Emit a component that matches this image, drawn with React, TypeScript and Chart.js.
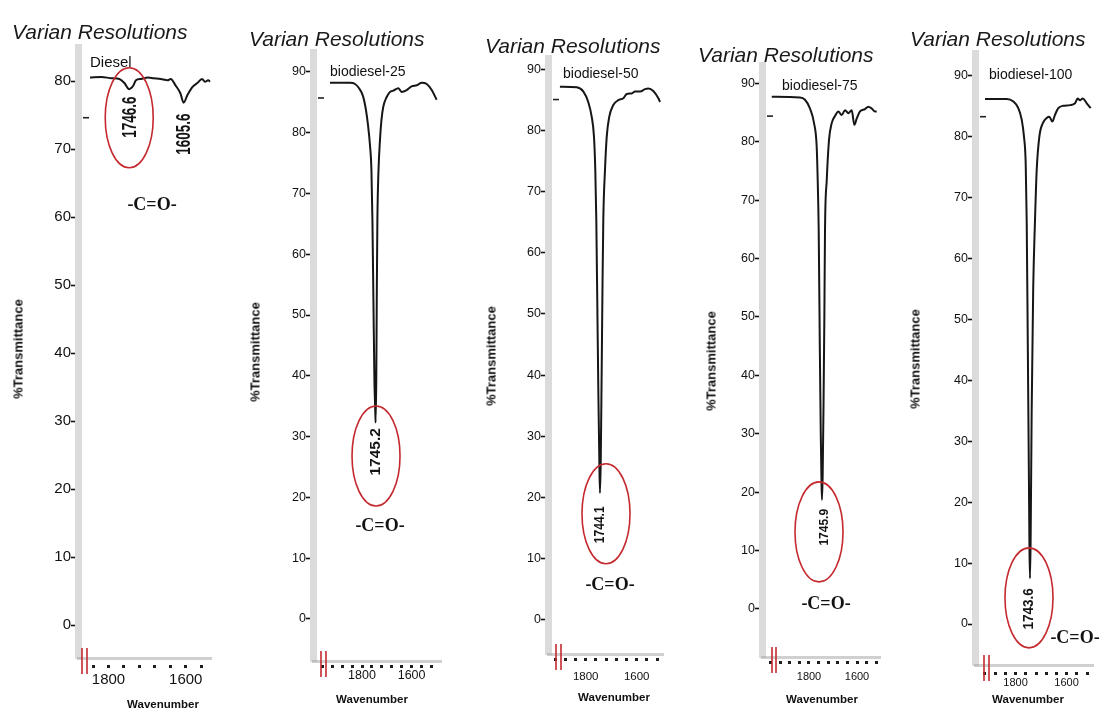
import React, { useEffect, useRef } from 'react';
import { Chart, registerables } from 'chart.js';

Chart.register(...registerables);

// ---------- data (wavenumber in cm-1, % transmittance) ----------
const dieselWavenumber = [1848, 1818, 1792, 1772, 1759, 1746.6, 1736, 1729, 1716, 1698, 1683, 1665, 1647, 1639, 1627, 1614, 1605.6, 1596, 1583, 1570, 1558, 1550, 1542, 1537];
const dieselTransmittance = [80.5, 80.6, 80.4, 80.3, 79.7, 78.8, 79.3, 80.1, 80.3, 80.5, 80.4, 80.3, 80.1, 80.3, 79.4, 78.2, 76.8, 77.9, 79.1, 79.7, 80.3, 79.9, 80.1, 79.9];

const b25Wavenumber = [1929, 1848, 1828, 1812, 1796, 1784, 1776, 1768, 1762, 1758, 1754, 1750, 1747, 1745.2, 1742.5, 1740.5, 1738, 1733.5, 1727.5, 1721.5, 1714, 1700, 1687, 1674, 1654, 1640, 1620, 1600, 1579, 1559, 1539, 1519, 1499];
const b25Transmittance = [88.2, 88.2, 88.0, 87.3, 86.0, 83.7, 81.3, 78.0, 73.8, 65.6, 52.5, 39.3, 34.9, 32.3, 39.3, 52.5, 65.6, 73.8, 78.8, 82.1, 84.3, 85.9, 86.7, 86.9, 87.3, 86.7, 87.0, 87.6, 87.8, 88.2, 88.0, 87.0, 85.4];

const b50Wavenumber = [1901, 1835, 1809, 1790, 1776.5, 1767.5, 1762.4, 1758.4, 1754, 1750, 1746.5, 1744.1, 1741, 1737.5, 1734, 1731, 1724.3, 1717.6, 1707.5, 1691.8, 1672, 1652.5, 1639, 1619.6, 1606.7, 1587, 1567.5, 1554.5, 1535, 1515, 1508.6];
const b50Transmittance = [87.2, 87.1, 86.4, 84.7, 82.3, 79.0, 73.6, 65.4, 50, 36, 26, 20.7, 26, 40, 55, 65.4, 73.6, 79.0, 82.3, 84.2, 85.0, 85.3, 86.0, 86.1, 86.4, 86.4, 86.8, 86.9, 86.5, 85.3, 84.7];

const b75Wavenumber = [1955, 1837.5, 1816.7, 1795.8, 1779, 1768, 1763.8, 1759.6, 1755, 1751, 1748, 1745.9, 1743, 1739.5, 1736, 1733.3, 1726, 1716.7, 1705.4, 1691.7, 1678, 1663.8, 1650, 1636, 1622, 1611, 1601, 1587.5, 1566.7, 1552.9, 1538.7, 1525, 1518];
const b75Transmittance = [87.7, 87.6, 87.2, 85.7, 83.2, 79.2, 73.5, 64.9, 45, 30, 22, 18.7, 23, 35, 50, 64.9, 73.5, 80.3, 83.2, 84.4, 85.2, 84.6, 85.4, 84.9, 85.4, 82.9, 84.0, 85.2, 85.6, 86.0, 85.7, 85.2, 85.2];

const b100Wavenumber = [1920, 1835, 1809, 1789.4, 1776, 1767, 1760.4, 1756.5, 1752, 1748, 1745.5, 1743.6, 1741, 1737, 1731, 1723.9, 1717.3, 1707, 1693.7, 1678, 1668, 1656, 1645.5, 1632.5, 1613, 1586.7, 1567, 1556.5, 1547.5, 1536.9, 1521, 1505.5];
const b100Transmittance = [86.2, 86.2, 85.8, 84.7, 82.8, 80.0, 75.6, 66.3, 45, 25, 12, 7.5, 14, 35, 55, 66.3, 74.5, 80.0, 82.2, 83.1, 83.3, 82.5, 83.6, 84.7, 85.1, 85.2, 85.5, 86.3, 86.0, 86.3, 85.5, 84.7];

// peak annotations
const dieselPeaks = [{ text: '1746.6', w: 1742.6, t: 74.7 }, { text: '1605.6', w: 1603.6, t: 72.2 }];
const b25Peaks = [{ text: '1745.2', w: 1743.5, t: 27.5 }];
const b50Peaks = [{ text: '1744.1', w: 1743.9, t: 15.5 }];
const b75Peaks = [{ text: '1745.9', w: 1733.3, t: 14.0 }];
const b100Peaks = [{ text: '1743.6', w: 1749.4, t: 2.5 }];

// tick labels
const xTickLabels = [1800, 1600];
const xTickStep = 40;
const yTicks90 = [0, 10, 20, 30, 40, 50, 60, 70, 80, 90];
const yTicks80 = [0, 10, 20, 30, 40, 50, 60, 70, 80];

const SANS = '"Liberation Sans", Arial, Helvetica, sans-serif';
const SERIF = '"Liberation Serif", "Times New Roman", Times, serif';
const RED = '#c42a2f';
const WY = 40;
const HX = 40;
const H = 715;

type Panel = {
  name: string;
  wn: number[];
  t: number[];
  peaks: { text: string; w: number; t: number }[];
  peakFont: number;
  peakStretch: number;
  canvasLeft: number;
  canvasWidth: number;
  area: { left: number; top: number; right: number; bottom: number };
  xMin: number; xMax: number;
  yMin: number; yMax: number;
  yTicks: number[];
  yFont: number; yTickLen: number; yPad: number;
  xFont: number; xTickLen: number; xPad: number;
  startMark: number;
  redLines: number[];
  ellipse: { w: number; t: number };
  title: { left: number; cy: number };
  label: { left: number; cy: number; size: number };
  yTitle: { cx: number; cy: number };
  xTitle: { cx: number; cy: number };
  co: { cx: number; cy: number };
};

const panels: Panel[] = [
  {
    name: 'Diesel', wn: dieselWavenumber, t: dieselTransmittance, peaks: dieselPeaks, peakFont: 13.5, peakStretch: 1.45,
    canvasLeft: 0, canvasWidth: 228,
    area: { left: 78, top: 47, right: 211, bottom: 658 },
    xMin: 1534.7, xMax: 1879, yMin: -4.85, yMax: 85.0, yTicks: yTicks80,
    yFont: 15, yTickLen: 7, yPad: 0, xFont: 15, xTickLen: 10, xPad: 3,
    startMark: 74.6, redLines: [4, 9], ellipse: { w: 1746.4, t: 74.6 },
    title: { left: 12, cy: 31 }, label: { left: 90, cy: 61, size: 15 },
    yTitle: { cx: 18, cy: 349 }, xTitle: { cx: 163, cy: 705 }, co: { cx: 152, cy: 204 },
  },
  {
    name: 'biodiesel-25', wn: b25Wavenumber, t: b25Transmittance, peaks: b25Peaks, peakFont: 15.5, peakStretch: 1.0,
    canvasLeft: 234, canvasWidth: 222,
    area: { left: 313, top: 52, right: 441, bottom: 661 },
    xMin: 1481.5, xMax: 1997.6, yMin: -6.91, yMax: 93.26, yTicks: yTicks90,
    yFont: 12.5, yTickLen: 7, yPad: 0, xFont: 12.5, xTickLen: 7, xPad: 0,
    startMark: 85.7, redLines: [8, 13], ellipse: { w: 1743.5, t: 26.8 },
    title: { left: 249, cy: 38 }, label: { left: 330, cy: 71, size: 14 },
    yTitle: { cx: 255, cy: 352 }, xTitle: { cx: 372, cy: 700 }, co: { cx: 380, cy: 525 },
  },
  {
    name: 'biodiesel-50', wn: b50Wavenumber, t: b50Transmittance, peaks: b50Peaks, peakFont: 12, peakStretch: 1.15,
    canvasLeft: 466, canvasWidth: 210,
    area: { left: 548, top: 58, right: 663, bottom: 654 },
    xMin: 1496.9, xMax: 1947.8, yMin: -5.65, yMax: 91.9, yTicks: yTicks90,
    yFont: 12.5, yTickLen: 7, yPad: 0, xFont: 11.5, xTickLen: 7, xPad: 9,
    startMark: 85.1, redLines: [8, 13], ellipse: { w: 1720.4, t: 17.3 },
    title: { left: 485, cy: 45 }, label: { left: 563, cy: 73, size: 14 },
    yTitle: { cx: 491, cy: 356 }, xTitle: { cx: 614, cy: 698 }, co: { cx: 610, cy: 584 },
  },
  {
    name: 'biodiesel-75', wn: b75Wavenumber, t: b75Transmittance, peaks: b75Peaks, peakFont: 12, peakStretch: 1.0,
    canvasLeft: 682, canvasWidth: 206,
    area: { left: 762, top: 65, right: 880, bottom: 657 },
    xMin: 1504.2, xMax: 1995.8, yMin: -8.22, yMax: 93.15, yTicks: yTicks90,
    yFont: 12.5, yTickLen: 7, yPad: 0, xFont: 11, xTickLen: 7, xPad: 6,
    startMark: 84.4, redLines: [10, 14], ellipse: { w: 1758.3, t: 13.2 },
    title: { left: 698, cy: 54 }, label: { left: 782, cy: 85, size: 14 },
    yTitle: { cx: 711, cy: 361 }, xTitle: { cx: 822, cy: 700 }, co: { cx: 826, cy: 603 },
  },
  {
    name: 'biodiesel-100', wn: b100Wavenumber, t: b100Transmittance, peaks: b100Peaks, peakFont: 13.5, peakStretch: 1.1,
    canvasLeft: 893, canvasWidth: 212,
    area: { left: 975, top: 53, right: 1093, bottom: 665 },
    xMin: 1496.5, xMax: 1959.2, yMin: -6.73, yMax: 93.76, yTicks: yTicks90,
    yFont: 12.5, yTickLen: 7, yPad: 0, xFont: 11, xTickLen: 10, xPad: 1,
    startMark: 83.3, redLines: [9, 14], ellipse: { w: 1747.5, t: 4.3 },
    title: { left: 910, cy: 38 }, label: { left: 989, cy: 74, size: 14 },
    yTitle: { cx: 915, cy: 359 }, xTitle: { cx: 1028, cy: 700 }, co: { cx: 1075, cy: 637 },
  },
];

function xTickValues(p: Panel): number[] {
  const vals: number[] = [];
  for (let v = 1800; v <= p.xMax; v += xTickStep) vals.push(v);
  for (let v = 1800 - xTickStep; v >= p.xMin; v -= xTickStep) vals.push(v);
  return vals.sort((a, b) => a - b);
}

function makeDecor(p: Panel) {
  return {
    id: 'decor-' + p.name,
    afterDatasetsDraw(chart: any) {
      const { ctx, chartArea } = chart;
      const x = chart.scales.x;
      const y = chart.scales.y;
      ctx.save();
      // start marker right of the axis band
      const sy = y.getPixelForValue(p.startMark);
      ctx.strokeStyle = '#222';
      ctx.lineWidth = 1.6;
      ctx.beginPath();
      ctx.moveTo(chartArea.left + 5, sy);
      ctx.lineTo(chartArea.left + 11, sy);
      ctx.stroke();
      // red double lines at the origin
      ctx.strokeStyle = RED;
      ctx.lineWidth = 1.6;
      for (const dx of p.redLines) {
        ctx.beginPath();
        ctx.moveTo(chartArea.left + dx, chartArea.bottom - 10);
        ctx.lineTo(chartArea.left + dx, chartArea.bottom + 16);
        ctx.stroke();
      }
      // ellipse around the C=O peak
      const ex = x.getPixelForValue(p.ellipse.w);
      const ey = y.getPixelForValue(p.ellipse.t);
      ctx.lineWidth = 1.6;
      ctx.beginPath();
      ctx.ellipse(ex, ey, 24, 50, 0, 0, Math.PI * 2);
      ctx.stroke();
      // peak labels (vertical)
      ctx.fillStyle = '#151515';
      for (const pk of p.peaks) {
        const px = x.getPixelForValue(pk.w);
        const py = y.getPixelForValue(pk.t);
        ctx.save();
        ctx.translate(px, py);
        ctx.rotate(-Math.PI / 2);
        ctx.scale(1, p.peakStretch);
        ctx.font = `bold ${p.peakFont}px ${SANS}`;
        ctx.textAlign = 'center';
        ctx.textBaseline = 'middle';
        ctx.fillText(pk.text, 0, 0);
        ctx.restore();
      }
      ctx.restore();
    },
  };
}

function PanelChart({ p }: { p: Panel }) {
  const ref = useRef<HTMLCanvasElement | null>(null);
  useEffect(() => {
    if (!ref.current) return;
    const zeroPad = (s: any) => {
      s.paddingLeft = 0; s.paddingRight = 0; s.paddingTop = 0; s.paddingBottom = 0;
    };
    const chart = new Chart(ref.current, {
      type: 'line',
      data: {
        datasets: [
          {
            label: p.name,
            data: p.wn.map((w, i) => ({ x: w, y: p.t[i] })),
            borderColor: '#161616',
            borderWidth: 2,
            pointRadius: 0,
            fill: false,
            cubicInterpolationMode: 'monotone',
          },
        ],
      },
      options: {
        animation: false,
        responsive: false,
        devicePixelRatio: 1,
        events: [],
        layout: {
          padding: {
            left: p.area.left - p.canvasLeft - WY,
            top: p.area.top,
            right: p.canvasLeft + p.canvasWidth - p.area.right,
            bottom: H - p.area.bottom - HX,
          },
        },
        plugins: { legend: { display: false }, tooltip: { enabled: false }, title: { display: false } },
        scales: {
          x: {
            type: 'linear',
            reverse: true,
            min: p.xMin,
            max: p.xMax,
            afterBuildTicks: (s: any) => { s.ticks = xTickValues(p).map((v) => ({ value: v })); },
            afterFit: (s: any) => { s.height = HX; zeroPad(s); },
            ticks: {
              autoSkip: false,
              maxRotation: 0,
              minRotation: 0,
              padding: p.xPad,
              color: '#111',
              font: { family: SANS, size: p.xFont },
              callback: (v: any) => (xTickLabels.includes(Number(v)) ? String(v) : ''),
            },
            grid: {
              drawOnChartArea: false,
              drawTicks: true,
              tickLength: p.xTickLen,
              tickColor: '#1e1e1e',
              tickWidth: 3,
              tickBorderDash: [0, p.xTickLen - 5, 3, 40],
            },
            border: { display: true, color: 'rgba(150,150,150,0.45)', width: 3, dash: [2, 2] },
          },
          y: {
            type: 'linear',
            min: p.yMin,
            max: p.yMax,
            afterBuildTicks: (s: any) => { s.ticks = p.yTicks.map((v) => ({ value: v })); },
            afterFit: (s: any) => { s.width = WY; zeroPad(s); },
            ticks: {
              padding: p.yPad,
              color: '#111',
              font: { family: SANS, size: p.yFont },
              callback: (v: any) => String(v),
            },
            grid: {
              drawOnChartArea: false,
              drawTicks: true,
              tickLength: p.yTickLen,
              tickColor: '#111',
              tickWidth: 1.6,
            },
            border: { display: true, color: 'rgba(160,160,160,0.38)', width: 7, dash: [2, 1.5] },
          },
        },
      } as any,
      plugins: [makeDecor(p)],
    });
    return () => chart.destroy();
  }, [p]);

  const abs: React.CSSProperties = { position: 'absolute', whiteSpace: 'nowrap', lineHeight: 1, color: '#111' };
  return (
    <>
      <canvas
        ref={ref}
        width={p.canvasWidth}
        height={H}
        style={{ position: 'absolute', left: p.canvasLeft, top: 0, width: p.canvasWidth, height: H }}
      />
      <div style={{ ...abs, left: p.title.left, top: p.title.cy, transform: 'translateY(-50%)', fontFamily: SANS, fontStyle: 'italic', fontSize: 21, color: '#1a1a1a' }}>
        Varian Resolutions
      </div>
      <div style={{ ...abs, left: p.label.left, top: p.label.cy, transform: 'translateY(-50%)', fontFamily: SANS, fontSize: p.label.size }}>
        {p.name}
      </div>
      <div style={{ ...abs, left: p.yTitle.cx, top: p.yTitle.cy, transform: 'translate(-50%, -50%) rotate(-90deg)', fontFamily: SANS, fontWeight: 'bold', fontSize: 13 }}>
        %Transmittance
      </div>
      <div style={{ ...abs, left: p.xTitle.cx, top: p.xTitle.cy, transform: 'translate(-50%, -50%)', fontFamily: SANS, fontWeight: 'bold', fontSize: 11.5 }}>
        Wavenumber
      </div>
      <div style={{ ...abs, left: p.co.cx, top: p.co.cy, transform: 'translate(-50%, -50%)', fontFamily: SERIF, fontWeight: 'bold', fontSize: 18 }}>
        -C=O-
      </div>
    </>
  );
}

export default function App() {
  return (
    <div style={{ position: 'fixed', left: 0, top: 0, width: 1105, height: H, background: '#ffffff', overflow: 'hidden' }}>
      {panels.map((p) => (
        <PanelChart key={p.name} p={p} />
      ))}
    </div>
  );
}
